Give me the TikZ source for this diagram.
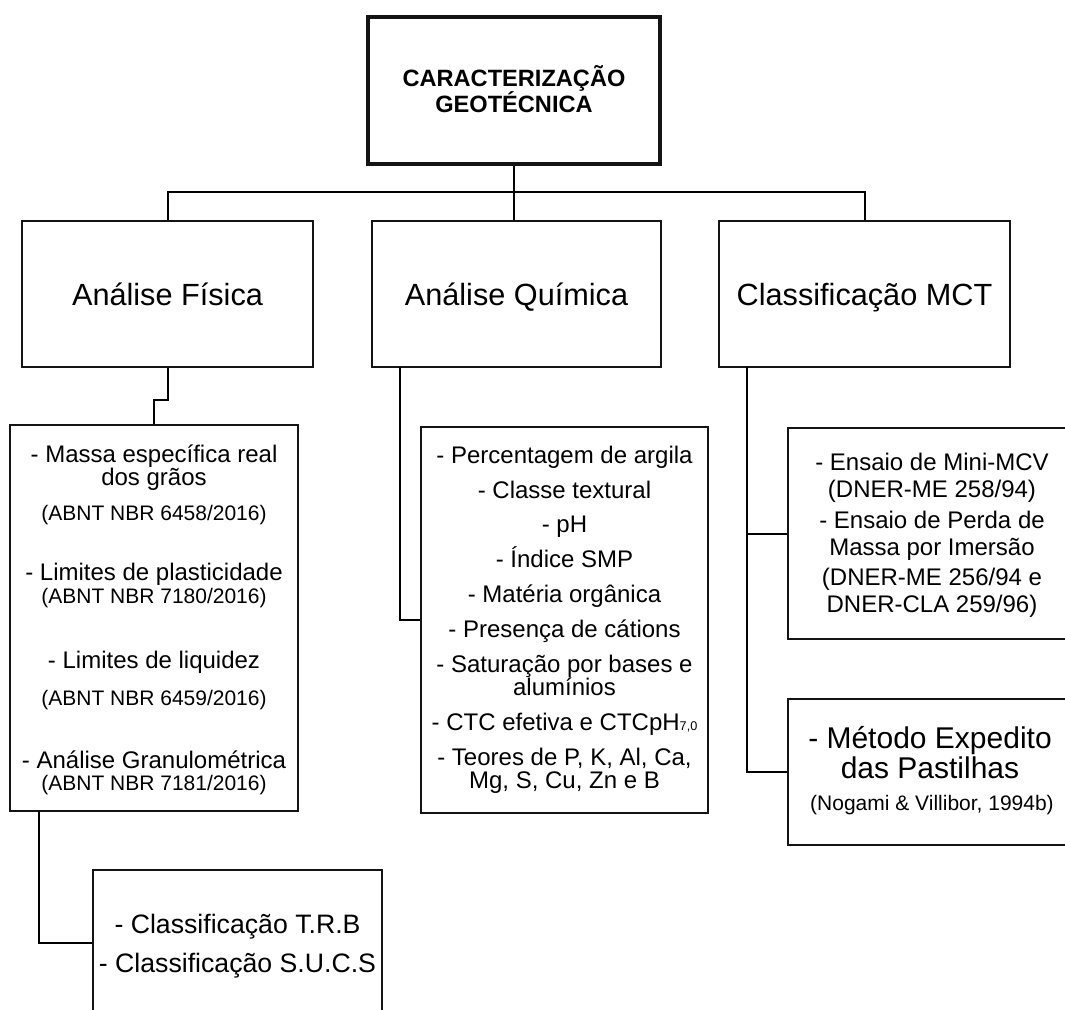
\documentclass[tikz,border=0pt]{standalone}
\usepackage{fontspec}
\setmainfont{Liberation Sans}
\usetikzlibrary{fit}
\begin{document}
\begin{tikzpicture}[x=0.75pt,y=-0.75pt,
  box/.style={draw=black!92, line width=1.6pt, inner sep=0pt},
  mainbox/.style={draw=black!92, line width=3pt, inner sep=0pt},
  link/.style={draw=black, line width=1.5pt},
  txt/.style={anchor=base, inner sep=0pt, font=\fontsize{18pt}{18pt}\selectfont},
  cite/.style={anchor=base, inner sep=0pt, font=\fontsize{15.75pt}{16pt}\selectfont},
  large/.style={anchor=base, inner sep=0pt, font=\fontsize{22.5pt}{23pt}\selectfont},
  head/.style={anchor=base, inner sep=0pt, font=\fontsize{23pt}{23pt}\selectfont},
  mid/.style={anchor=base, inner sep=0pt, font=\fontsize{20pt}{20pt}\selectfont},
  title/.style={anchor=base, inner sep=0pt, font=\bfseries\fontsize{17.7pt}{18pt}\selectfont}]
\clip (0,0) rectangle (1065,1010);
\fill[white] (0,0) rectangle (1065,1010);

% boxes
\node[mainbox, fit={(368,17) (660,164)}] (top) {};
\node[box, fit={(22,221) (313,367)}] (fis) {};
\node[box, fit={(372,221) (661,367)}] (qui) {};
\node[box, fit={(719,221) (1010,367)}] (mct) {};
\node[box, fit={(10,425) (298,811)}] (fisd) {};
\node[box, fit={(421,427) (708,813)}] (quid) {};
\node[box, fit={(788,428) (1076,639)}] (mcta) {};
\node[box, fit={(788,699) (1076,845)}] (mctb) {};
\node[box, fit={(93,870) (382,1016)}] (cls) {};

% connectors
\coordinate (bus) at (514,192);
\coordinate (qb) at (400,367);
\coordinate (mb) at (747,367);
\coordinate (fb) at (39,811);
\draw[link] (top.south) -- (top.south |- qui.north);
\draw[link] (fis.north) |- (bus) -| (mct.north);
\draw[link] (fis.south) -- ++(0,32) -| (fisd.north);
\draw[link] (qb) |- (quid.west);
\draw[link] (mb) |- (mctb.west);
\draw[link] (mb |- mcta.west) -- (mcta.west);
\draw[link] (fb) |- (cls.west);

% titles
\node[title] (t1) at (514,86) {CARACTERIZAÇÃO};
\node[title] (t2) at (514,112) {GEOTÉCNICA};
\node[head] (h1) at (167.5,305) {Análise Física};
\node[head] (h2) at (516.5,305) {Análise Química};
\node[head] (h3) at (864.5,305) {Classificação MCT};

% physical analysis
\node[txt]  (f1) at (154,462) {- Massa específica real};
\node[txt]  (f2) at (154,485) {dos grãos};
\node[cite] (f3) at (154,520) {(ABNT NBR 6458/2016)};
\node[txt]  (f4) at (154,580) {- Limites de plasticidade};
\node[cite] (f5) at (154,603) {(ABNT NBR 7180/2016)};
\node[txt]  (f6) at (154,668) {- Limites de liquidez};
\node[cite] (f7) at (154,705) {(ABNT NBR 6459/2016)};
\node[txt]  (f8) at (154,768) {- Análise Granulométrica};
\node[cite] (f9) at (154,790) {(ABNT NBR 7181/2016)};

% chemical analysis
\node[txt] (q1) at (564.5,463) {- Percentagem de argila};
\node[txt] (q2) at (564.5,498) {- Classe textural};
\node[txt] (q3) at (564.5,532) {- pH};
\node[txt] (q4) at (564.5,567) {- Índice SMP};
\node[txt] (q5) at (564.5,602) {- Matéria orgânica};
\node[txt] (q6) at (564.5,637) {- Presença de cátions};
\node[txt] (q7) at (564.5,672) {- Saturação por bases e};
\node[txt] (q8) at (564.5,695) {alumínios};
\node[txt] (q9) at (564.5,730) {- CTC efetiva e CTCpH{\fontsize{9.5pt}{9.5pt}\selectfont 7,0}};
\node[txt] (q10) at (564.5,765) {- Teores de P, K, Al, Ca,};
\node[txt] (q11) at (564.5,788) {Mg, S, Cu, Zn e B};

% MCT tests
\node[txt] (m1) at (932,470) {- Ensaio de Mini-MCV};
\node[txt] (m2) at (932,497) {(DNER-ME 258/94)};
\node[txt] (m3) at (932,528) {- Ensaio de Perda de};
\node[txt] (m4) at (932,555) {Massa por Imersão};
\node[txt] (m5) at (932,585) {(DNER-ME 256/94 e};
\node[txt] (m6) at (932,612) {DNER-CLA 259/96)};
\node[large] (p1) at (930,748) {- Método Expedito};
\node[large] (p2) at (930,778) {das Pastilhas};
\node[cite]  (p3) at (932,810) {(Nogami \& Villibor, 1994b)};

% soil classification
\node[mid] (c1) at (237.5,933) {- Classificação T.R.B};
\node[mid] (c2) at (237.5,972) {- Classificação S.U.C.S};
\end{tikzpicture}
\end{document}
